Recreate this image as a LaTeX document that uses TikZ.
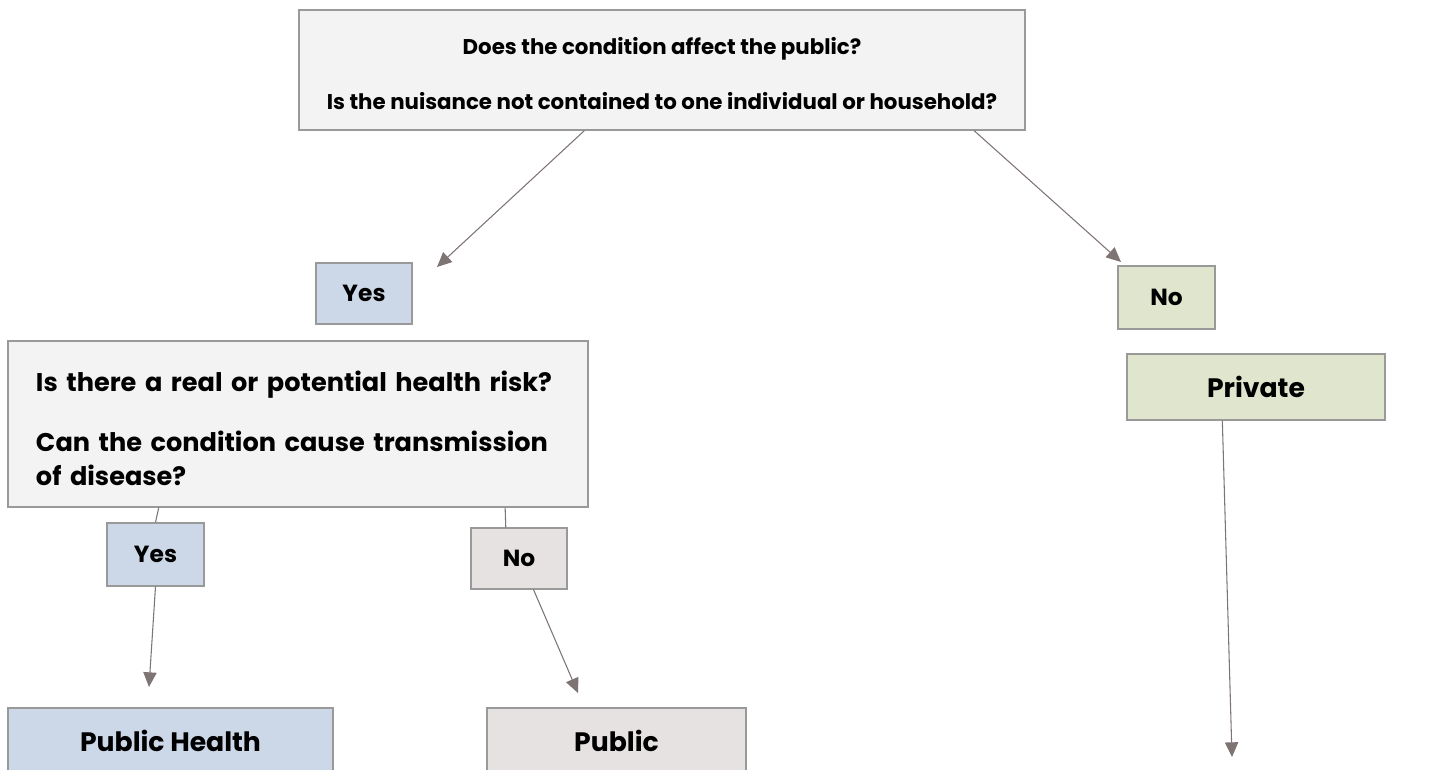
\documentclass[tikz,border=0pt]{standalone}
\usepackage{fontspec}
\setmainfont{Poppins}
\usepackage{xcolor}
\usetikzlibrary{arrows.meta}

\definecolor{boxgray}{HTML}{F3F3F3}
\definecolor{boxblue}{HTML}{CCD8E7}
\definecolor{boxgreen}{HTML}{E0E6CE}
\definecolor{boxtaupe}{HTML}{E6E2E1}
\definecolor{edgegray}{HTML}{999999}
\definecolor{linkcol}{HTML}{7F7474}

\begin{document}
\begin{tikzpicture}[x=0.75pt,y=-0.75pt,
  choice/.style={draw=edgegray,line width=1pt,inner sep=0pt,
    font=\fontsize{17.5}{21}\selectfont\bfseries},
  outcome/.style={choice,minimum height=49.5pt,
    font=\fontsize{20}{24}\selectfont\bfseries},
  link/.style={draw=linkcol,line width=0.8pt},
  arrowlink/.style={link,-{Triangle[length=11pt,width=10pt]}}]
\useasboundingbox (0,0) rectangle (1449,770);

% questions
\node[choice,fill=boxgray,minimum width=544.5pt,minimum height=90pt,align=center,
  font=\fontsize{16}{20}\selectfont\bfseries]
  (q1) at (662,70) {\rule{0pt}{18pt}Does the condition affect the public?\\[21pt]
  Is the nuisance not contained to one individual or household?};
\node[choice,fill=boxgray,minimum width=435pt,minimum height=124.5pt,
  text width=393pt,align=left,font=\fontsize{19.2}{26}\selectfont\bfseries] (q2) at (298,424)
  {\mbox{\rule{0pt}{22pt}Is there a real or potential health risk?}\\[19pt]
   \mbox{Can the condition cause transmission}\\of disease?};

% answers
\node[choice,fill=boxblue,minimum width=72pt,minimum height=45.75pt] (yes1) at (364,293.5) {Yes};
\node[choice,fill=boxgreen,minimum width=72.75pt,minimum height=47.25pt] (no1) at (1166.5,297.5) {No};
\node[choice,fill=boxblue,minimum width=72.75pt,minimum height=47.25pt] (yes2) at (155.5,554.5) {Yes};
\node[choice,fill=boxtaupe,minimum width=72pt,minimum height=45.75pt] (no2) at (519,558.5) {No};

% outcomes
\node[outcome,fill=boxgreen,minimum width=193.5pt] (priv) at (1256,387) {Private};
\node[outcome,fill=boxblue,minimum width=243.75pt] (pubhealth) at (170.5,741) {Public Health};
\node[outcome,fill=boxtaupe,minimum width=194.25pt] (pub) at (616.5,741) {Public};

% arrow ends
\coordinate (e1) at (437,267);
\coordinate (e2) at (1121,262);
\coordinate (e3) at (149,687);
\coordinate (e4) at (578,693);
\coordinate (e5) at (1232,757);

\draw[arrowlink] (q1.218.3) -- (e1);
\draw[arrowlink] (q1.-11.7) -- (e2);
\draw[link] (q2.211) -- (yes2.north);
\draw[link] (q2.-22.6) -- (no2.113);
\draw[arrowlink] (yes2.south) -- (e3);
\draw[arrowlink] (no2.-65) -- (e4);
\draw[arrowlink] (priv.225) -- (e5);
\end{tikzpicture}
\end{document}
